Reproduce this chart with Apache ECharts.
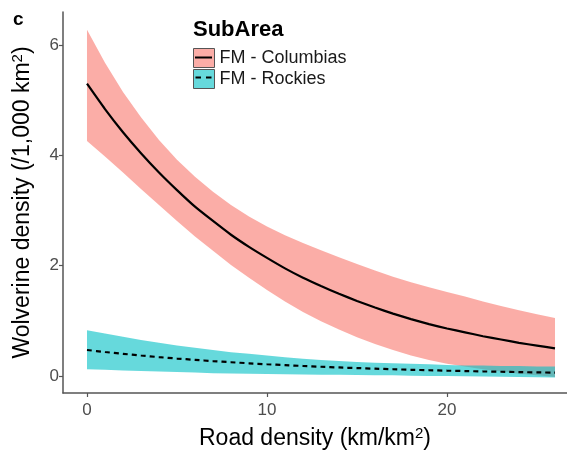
<!DOCTYPE html>
<html>
<head>
<meta charset="utf-8">
<script src="https://cdn.jsdelivr.net/npm/echarts@6/dist/echarts.min.js"></script>
<style>
  html, body { margin: 0; padding: 0; background: #fff; }
  #chart { width: 567px; height: 453px; }
</style>
</head>
<body>
<div id="chart"></div>
<script>
// road density (km/km2) at which the curves are read
var roadDensity = [0, 1, 2, 3, 4, 5, 6, 7, 8, 9, 10, 11, 12, 13, 14, 15, 16, 17, 18, 19, 20, 21, 22, 23, 24, 25, 26];

// FM - Columbias
var columbiasMean  = [5.30, 4.84, 4.42, 4.04, 3.69, 3.37, 3.07, 2.81, 2.56, 2.34, 2.14, 1.95, 1.78, 1.63, 1.49, 1.36, 1.24, 1.13, 1.03, 0.94, 0.86, 0.79, 0.72, 0.66, 0.60, 0.55, 0.50];
var columbiasUpper = [6.28, 5.68, 5.15, 4.69, 4.28, 3.92, 3.61, 3.34, 3.10, 2.89, 2.71, 2.55, 2.41, 2.28, 2.15, 2.03, 1.91, 1.80, 1.70, 1.61, 1.52, 1.44, 1.35, 1.27, 1.19, 1.12, 1.05];
var columbiasLower = [4.26, 3.98, 3.69, 3.39, 3.10, 2.81, 2.53, 2.27, 2.01, 1.78, 1.56, 1.35, 1.16, 0.99, 0.84, 0.70, 0.58, 0.47, 0.37, 0.29, 0.22, 0.17, 0.12, 0.08, 0.04, 0.01, -0.02];

// FM - Rockies
var rockiesMean  = [0.47, 0.434, 0.401, 0.370, 0.341, 0.315, 0.291, 0.268, 0.248, 0.229, 0.211, 0.195, 0.180, 0.166, 0.153, 0.142, 0.131, 0.121, 0.111, 0.103, 0.095, 0.088, 0.081, 0.075, 0.069, 0.064, 0.059];
var rockiesUpper = [0.83, 0.77, 0.71, 0.65, 0.60, 0.55, 0.51, 0.47, 0.43, 0.40, 0.37, 0.34, 0.31, 0.29, 0.27, 0.25, 0.24, 0.23, 0.22, 0.21, 0.20, 0.19, 0.19, 0.18, 0.18, 0.17, 0.17];
var rockiesLower = [0.12, 0.11, 0.10, 0.09, 0.08, 0.07, 0.06, 0.05, 0.045, 0.04, 0.035, 0.03, 0.025, 0.02, 0.02, 0.015, 0.01, 0.01, 0.005, 0.0, 0.0, -0.005, -0.01, -0.015, -0.02, -0.025, -0.03];

var xTicks = [0, 10, 20];
var yTicks = [0, 2, 4, 6];

var fontFamily = '"Liberation Sans", Arial, sans-serif';

function pairs(ys) {
	return roadDensity.map(function (x, i) { return [x, ys[i]]; });
}
function bandRows(low, up) {
	return roadDensity.map(function (x, i) { return [x, low[i], up[i]]; });
}

// draws the whole ribbon once, as one polygon, through the axis scales
function ribbon(low, up, fill) {
	return function (params, api) {
		if (params.dataIndex !== 0) return null;
		var pts = [], i;
		for (i = 0; i < roadDensity.length; i++) pts.push(api.coord([roadDensity[i], up[i]]));
		for (i = roadDensity.length - 1; i >= 0; i--) pts.push(api.coord([roadDensity[i], low[i]]));
		return { type: 'polygon', shape: { points: pts }, style: { fill: fill, opacity: 0.6 } };
	};
}

// legend keys: a line drawn in the middle of a 17x19 box (tiny corner dots fix the box size)
var solidKey  = 'path://M0,0H0.01V0.01H0ZM16.99,18.99H17V19H16.99ZM0,8.5H17V10.5H0Z';
var dashedKey = 'path://M0,0H0.01V0.01H0ZM16.99,18.99H17V19H16.99ZM0.5,8.5H6V10.5H0.5ZM11,8.5H16.5V10.5H11Z';

// axis title text with a raised superscript
var titleRich = {
	b: { fontSize: 23, lineHeight: 24, verticalAlign: 'bottom', color: '#000', fontFamily: fontFamily },
	sup: { fontSize: 15, lineHeight: 15, padding: [0, 0, 13, 0], verticalAlign: 'top', color: '#000', fontFamily: fontFamily }
};

var myChart = echarts.init(document.getElementById('chart'));

var option = {
	animation: false,
	textStyle: { fontFamily: fontFamily },
	title: [
		{ text: 'c', left: 8, top: 5, textStyle: { fontSize: 19, fontWeight: 'bold', color: '#000', fontFamily: fontFamily } },
		{ text: 'SubArea', left: 188, top: 14, textStyle: { fontSize: 22, fontWeight: 'bold', color: '#000', fontFamily: fontFamily } }
	],
	legend: [
		{
			orient: 'vertical', left: 188, top: 43, itemWidth: 21, itemHeight: 19, itemGap: 1,
			selectedMode: false,
			textStyle: { fontSize: 18, color: '#1a1a1a', lineHeight: 19, fontFamily: fontFamily },
			data: [
				{ name: 'FM - Columbias', icon: 'rect', itemStyle: { color: '#FBADA7', opacity: 1, borderColor: '#555', borderWidth: 1 } },
				{ name: 'FM - Rockies', icon: 'rect', itemStyle: { color: '#66D9DC', opacity: 1, borderColor: '#555', borderWidth: 1 } }
			]
		},
		{
			orient: 'vertical', left: 190, top: 43, itemWidth: 17, itemHeight: 19, itemGap: 1,
			selectedMode: false, symbolKeepAspect: false,
			formatter: function () { return ''; },
			textStyle: { lineHeight: 19 },
			data: [
				{ name: 'Columbias mean', icon: solidKey, itemStyle: { color: '#000', borderWidth: 0 } },
				{ name: 'Rockies mean', icon: dashedKey, itemStyle: { color: '#000', borderWidth: 0 } }
			]
		}
	],
	grid: { left: 63, right: 0, top: 12, bottom: 60, containLabel: false, outerBoundsMode: 'none' },
	xAxis: {
		type: 'value', min: -1.333, max: 26.667,
		name: '{b|Road density (km/km}{sup|2}{b|)}', nameLocation: 'middle', nameGap: 33,
		nameTextStyle: { fontSize: 23, color: '#000', fontFamily: fontFamily, rich: titleRich },
		axisLine: { show: true, onZero: false, lineStyle: { color: '#555', width: 1.5 } },
		axisTick: { show: true, length: 4, customValues: xTicks, lineStyle: { color: '#555', width: 1.2 } },
		axisLabel: { customValues: xTicks, fontSize: 17, color: '#4D4D4D', margin: 9 },
		splitLine: { show: false }
	},
	yAxis: {
		type: 'value', min: -0.31, max: 6.6,
		name: '{b|Wolverine density (/1,000 km}{sup|2}{b|)}', nameLocation: 'middle', nameGap: 24,
		nameTextStyle: { fontSize: 23, color: '#000', fontFamily: fontFamily, rich: titleRich },
		axisLine: { show: true, onZero: false, lineStyle: { color: '#555', width: 1.5 } },
		axisTick: { show: true, length: 4, customValues: yTicks, lineStyle: { color: '#555', width: 1.2 } },
		axisLabel: { customValues: yTicks, fontSize: 17, color: '#4D4D4D', margin: 4 },
		splitLine: { show: false }
	},
	series: [
		{
			name: 'FM - Columbias', type: 'custom', silent: true, clip: true,
			data: bandRows(columbiasLower, columbiasUpper),
			encode: { x: 0, y: [1, 2] },
			itemStyle: { color: '#FBADA7' },
			renderItem: ribbon(columbiasLower, columbiasUpper, '#F8766D')
		},
		{
			name: 'FM - Rockies', type: 'custom', silent: true, clip: true,
			data: bandRows(rockiesLower, rockiesUpper),
			encode: { x: 0, y: [1, 2] },
			itemStyle: { color: '#66D9DC' },
			renderItem: ribbon(rockiesLower, rockiesUpper, '#00BFC4')
		},
		{
			name: 'Columbias mean', type: 'line', data: pairs(columbiasMean), symbol: 'none',
			smooth: 0.2, silent: true,
			itemStyle: { color: '#000' },
			lineStyle: { color: '#000', width: 2.2 }
		},
		{
			name: 'Rockies mean', type: 'line', data: pairs(rockiesMean), symbol: 'none',
			smooth: 0.2, silent: true,
			itemStyle: { color: '#000' },
			lineStyle: { color: '#000', width: 2.2, type: [5, 4] }
		}
	]
};

myChart.setOption(option, true);
</script>
</body>
</html>
